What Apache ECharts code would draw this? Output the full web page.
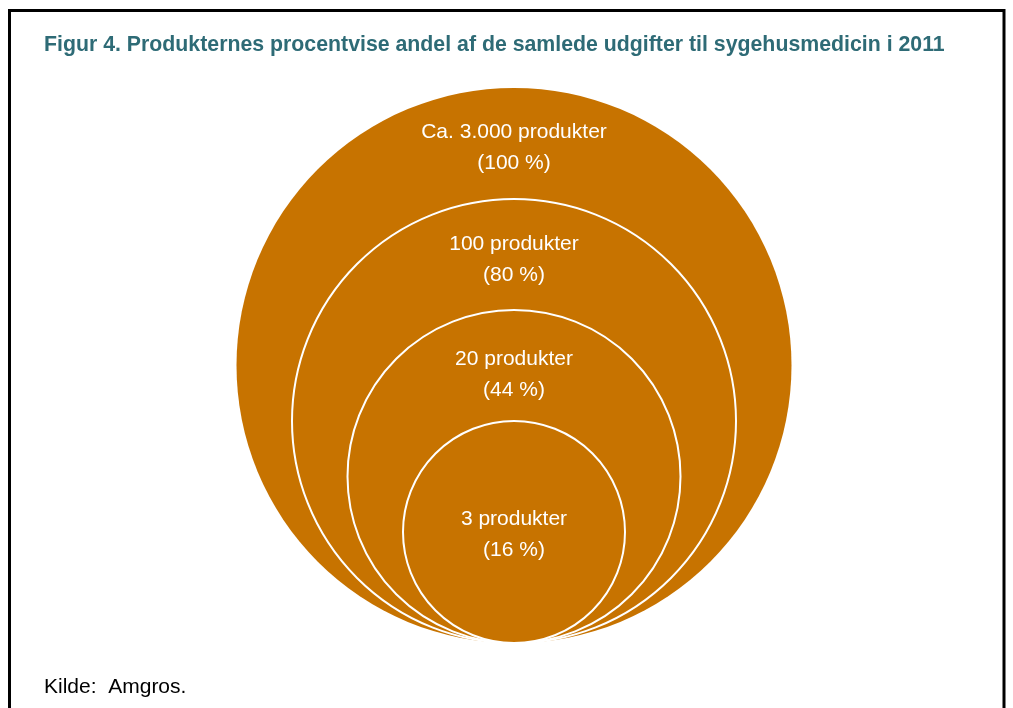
<!DOCTYPE html>
<html>
<head>
<meta charset="utf-8">
<script src="https://cdn.jsdelivr.net/npm/echarts@6/dist/echarts.min.js"></script>
<style>
html,body{margin:0;padding:0;background:#fff;}
#chart{width:1013px;height:708px;}
</style>
</head>
<body>
<div id="chart"></div>
<script>
// Data
const groups = ['Ca. 3.000 produkter', '100 produkter', '20 produkter', '3 produkter'];
const shares = ['100 %', '80 %', '44 %', '16 %'];
const relRadius = [1.0, 0.8, 0.6, 0.4];
const titleText = 'Figur 4. Produkternes procentvise andel af de samlede udgifter til sygehusmedicin i 2011';
const sourceText = 'Kilde:  Amgros.';

const FILL = '#C77300';
const FONT = '"Liberation Sans", Arial, sans-serif';

const seriesData = groups.map((g, i) => ({ value: [0, relRadius[i]], name: g, share: shares[i] }));

const chart = echarts.init(document.getElementById('chart'), null, { renderer: 'canvas' });
chart.setOption({
  animation: false,
  backgroundColor: '#fff',
  title: [
    { text: titleText, left: 44, top: 35, padding: 0,
      textStyle: { fontFamily: FONT, fontSize: 21.3, fontWeight: 'bold', color: '#2E6B76' } },
    { text: sourceText, left: 44, top: 677, padding: 0,
      textStyle: { fontFamily: FONT, fontSize: 21, fontWeight: 'normal', color: '#000' } }
  ],
  graphic: [
    { type: 'polyline', shape: { points: [[9.5, 720], [9.5, 10.5], [1004, 10.5], [1004, 720]] },
      style: { stroke: '#000', lineWidth: 3, fill: null }, z: 10 }
  ],
  grid: { left: 236.5, top: 88, width: 555, height: 555 },
  xAxis: { type: 'value', min: -1, max: 1, show: false },
  yAxis: { type: 'value', min: 0, max: 2, show: false },
  series: [{
    type: 'custom',
    coordinateSystem: 'cartesian2d',
    data: seriesData,
    renderItem: function (params, api) {
      const i = params.dataIndex;
      const r = api.value(1);
      const c = api.coord([0, r]);
      const rp = api.size([r, 0])[0];
      const top = c[1] - rp;
      const last = i === groups.length - 1;
      const y1 = last ? c[1] - 13 : top + 44 + (i === 0 ? 0 : 1) + (i === 2 ? 4 : 0);
      return {
        type: 'group',
        children: [
          { type: 'circle', shape: { cx: c[0], cy: c[1], r: rp },
            style: { fill: FILL, stroke: i === 0 ? null : '#fff', lineWidth: i === 0 ? 0 : 2 } },
          { type: 'text', style: { text: groups[i], x: c[0], y: y1, align: 'center', verticalAlign: 'middle',
              fill: '#fff', font: '21px ' + FONT } },
          { type: 'text', style: { text: '(' + shares[i] + ')', x: c[0], y: y1 + 31, align: 'center', verticalAlign: 'middle',
              fill: '#fff', font: '21px ' + FONT } }
        ]
      };
    }
  }]
});
</script>
</body>
</html>
